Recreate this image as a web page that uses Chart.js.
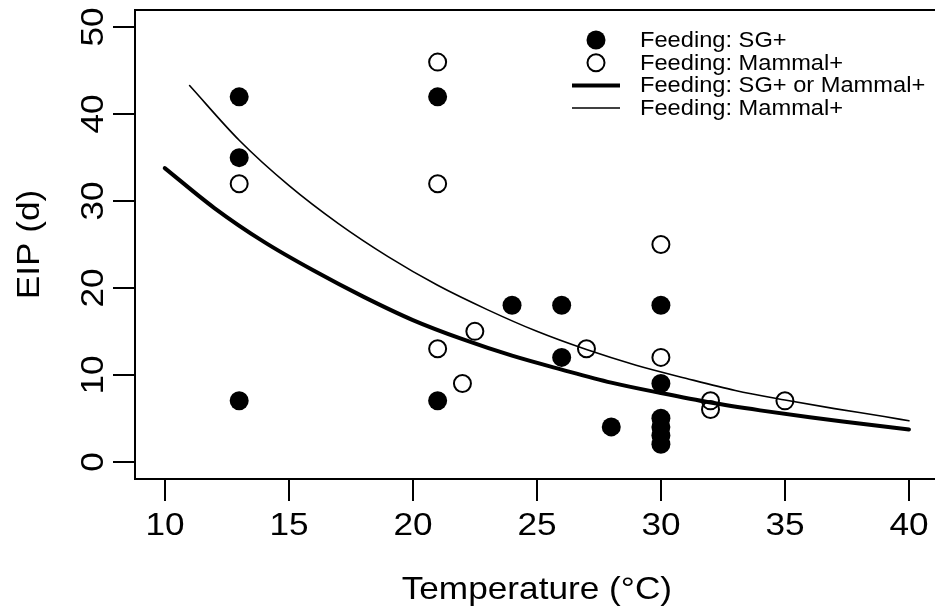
<!DOCTYPE html>
<html>
<head>
<meta charset="utf-8">
<script src="https://cdn.jsdelivr.net/npm/chart.js@4.4.1/dist/chart.umd.min.js"></script>
<style>
  html, body { margin: 0; padding: 0; background: #fff; overflow: hidden; }
  #chart { display: block; }
</style>
</head>
<body>
<canvas id="chart" width="935" height="607"></canvas>
<script>
// Punkte: Fütterung SG+
const sgTemp = [13, 13, 13, 21, 21, 24, 26, 26, 28, 30, 30, 30, 30, 30, 30];
const sgEip  = [42, 35, 7, 42, 7, 18, 18, 12, 4, 18, 9, 5, 4, 3, 2];

// Punkte: Fütterung Mammal+
const mamTemp = [13, 21, 21, 21, 22, 22.5, 27, 30, 30, 32, 32, 35];
const mamEip  = [32, 46, 32, 13, 9, 15, 13, 25, 12, 7, 6, 7];

// Kurve SG+ oder Mammal+ (dick)
const fitBothTemp = [10, 12, 14, 16, 18, 20, 22, 24, 26, 28, 30, 32, 34, 36, 38, 40];
const fitBothEip  = [33.8, 29.2, 25.3, 22.0, 19.0, 16.3, 14.1, 12.2, 10.6, 9.1, 7.9, 6.8, 5.9, 5.1, 4.4, 3.7];

// Kurve Mammal+ (dünn)
const fitMamTemp = [11, 13, 15, 17, 19, 21, 23, 25, 27, 29, 31, 33, 35, 37, 39, 40];
const fitMamEip  = [43.3, 37.0, 31.8, 27.4, 23.6, 20.3, 17.5, 15.0, 12.9, 11.1, 9.6, 8.2, 7.1, 6.1, 5.2, 4.7];

const xTicks = [10, 15, 20, 25, 30, 35, 40];
const yTicks = [0, 10, 20, 30, 40, 50];
const xTitle = 'Temperature (°C)';
const yTitle = 'EIP (d)';
const legendLabels = ['Feeding: SG+', 'Feeding: Mammal+', 'Feeding: SG+ or Mammal+', 'Feeding: Mammal+'];

const FONT = '"Liberation Sans", Arial, Helvetica, sans-serif';

function pts(xs, ys) {
    return xs.map((x, i) => ({ x: x, y: ys[i] }));
}

// Text etwas breiter zeichnen, wie im Original
function drawText(ctx, text, x, y, rot, size, align, baseline) {
    ctx.save();
    ctx.translate(x, y);
    ctx.rotate(rot);
    ctx.scale(1.1, 1);
    ctx.font = size + 'px ' + FONT;
    ctx.fillStyle = '#000';
    ctx.textAlign = align;
    ctx.textBaseline = baseline;
    ctx.fillText(text, 0, 0);
    ctx.restore();
}

const rAxes = {
    id: 'rAxes',
    afterDraw(chart) {
        const ctx = chart.ctx;
        const a = chart.chartArea;
        const xs = chart.scales.x;
        const ys = chart.scales.y;
        ctx.save();
        ctx.strokeStyle = '#000';
        ctx.lineWidth = 2;
        // Rahmen: rechte Kante (x = 41.2) liegt ausserhalb des Bildes
        const boxRight = xs.getPixelForValue(41.2);
        ctx.strokeRect(a.left, a.top, boxRight - a.left, a.bottom - a.top);

        // x-Achse
        xTicks.forEach(t => {
            const px = Math.round(xs.getPixelForValue(t));
            ctx.beginPath();
            ctx.moveTo(px, a.bottom);
            ctx.lineTo(px, a.bottom + 22);
            ctx.stroke();
            drawText(ctx, String(t), px, a.bottom + 56, 0, 32, 'center', 'alphabetic');
        });
        // y-Achse
        yTicks.forEach(t => {
            const py = Math.round(ys.getPixelForValue(t));
            ctx.beginPath();
            ctx.moveTo(a.left, py);
            ctx.lineTo(a.left - 22, py);
            ctx.stroke();
            drawText(ctx, String(t), a.left - 32, py, -Math.PI / 2, 32, 'center', 'alphabetic');
        });
        drawText(ctx, xTitle, (a.left + boxRight) / 2, a.bottom + 120, 0, 32, 'center', 'alphabetic');
        drawText(ctx, yTitle, 39, (a.top + a.bottom) / 2, -Math.PI / 2, 32, 'center', 'alphabetic');

        // Legende
        const ds = chart.data.datasets;
        const symX = 596, textX = 640;
        const rows = [40, 62.7, 85.4, 108];
        rows.forEach((ry, i) => {
            const d = ds[i];
            ctx.beginPath();
            if (d.type === 'line') {
                ctx.lineWidth = d.borderWidth;
                ctx.lineCap = 'butt';
                ctx.moveTo(symX - 24, ry);
                ctx.lineTo(symX + 24, ry);
                ctx.stroke();
            } else if (d.pointBorderWidth > 0) {
                ctx.lineWidth = d.pointBorderWidth;
                ctx.arc(symX, ry, d.pointRadius, 0, Math.PI * 2);
                ctx.stroke();
            } else {
                ctx.fillStyle = '#000';
                ctx.arc(symX, ry, d.pointRadius, 0, Math.PI * 2);
                ctx.fill();
            }
            drawText(ctx, legendLabels[i], textX, ry + 1, 0, 21.5, 'left', 'middle');
        });
        ctx.restore();
    }
};

new Chart(document.getElementById('chart'), {
    type: 'scatter',
    data: {
        datasets: [
            {
                label: legendLabels[0],
                data: pts(sgTemp, sgEip),
                pointRadius: 9.5,
                pointBorderWidth: 0,
                pointBackgroundColor: '#000',
                pointBorderColor: '#000'
            },
            {
                label: legendLabels[1],
                data: pts(mamTemp, mamEip),
                pointRadius: 8.5,
                pointBorderWidth: 2,
                pointBackgroundColor: 'rgba(0,0,0,0)',
                pointBorderColor: '#000'
            },
            {
                type: 'line',
                label: legendLabels[2],
                data: pts(fitBothTemp, fitBothEip),
                borderColor: '#000',
                borderWidth: 4,
                borderCapStyle: 'round',
                pointRadius: 0,
                cubicInterpolationMode: 'monotone',
                fill: false
            },
            {
                type: 'line',
                label: legendLabels[3],
                data: pts(fitMamTemp, fitMamEip),
                borderColor: '#000',
                borderWidth: 1.6,
                borderCapStyle: 'round',
                pointRadius: 0,
                cubicInterpolationMode: 'monotone',
                fill: false
            }
        ]
    },
    options: {
        responsive: false,
        animation: false,
        layout: {
            autoPadding: false,
            padding: { left: 135, top: 10, right: 0, bottom: 128 }
        },
        scales: {
            // 41.05 liegt am Bildrand
            x: { type: 'linear', min: 8.8, max: 41.05, display: false },
            y: { type: 'linear', min: -2, max: 52, display: false }
        },
        plugins: {
            legend: { display: false },
            tooltip: { enabled: false }
        }
    },
    plugins: [rAxes]
});
</script>
</body>
</html>
